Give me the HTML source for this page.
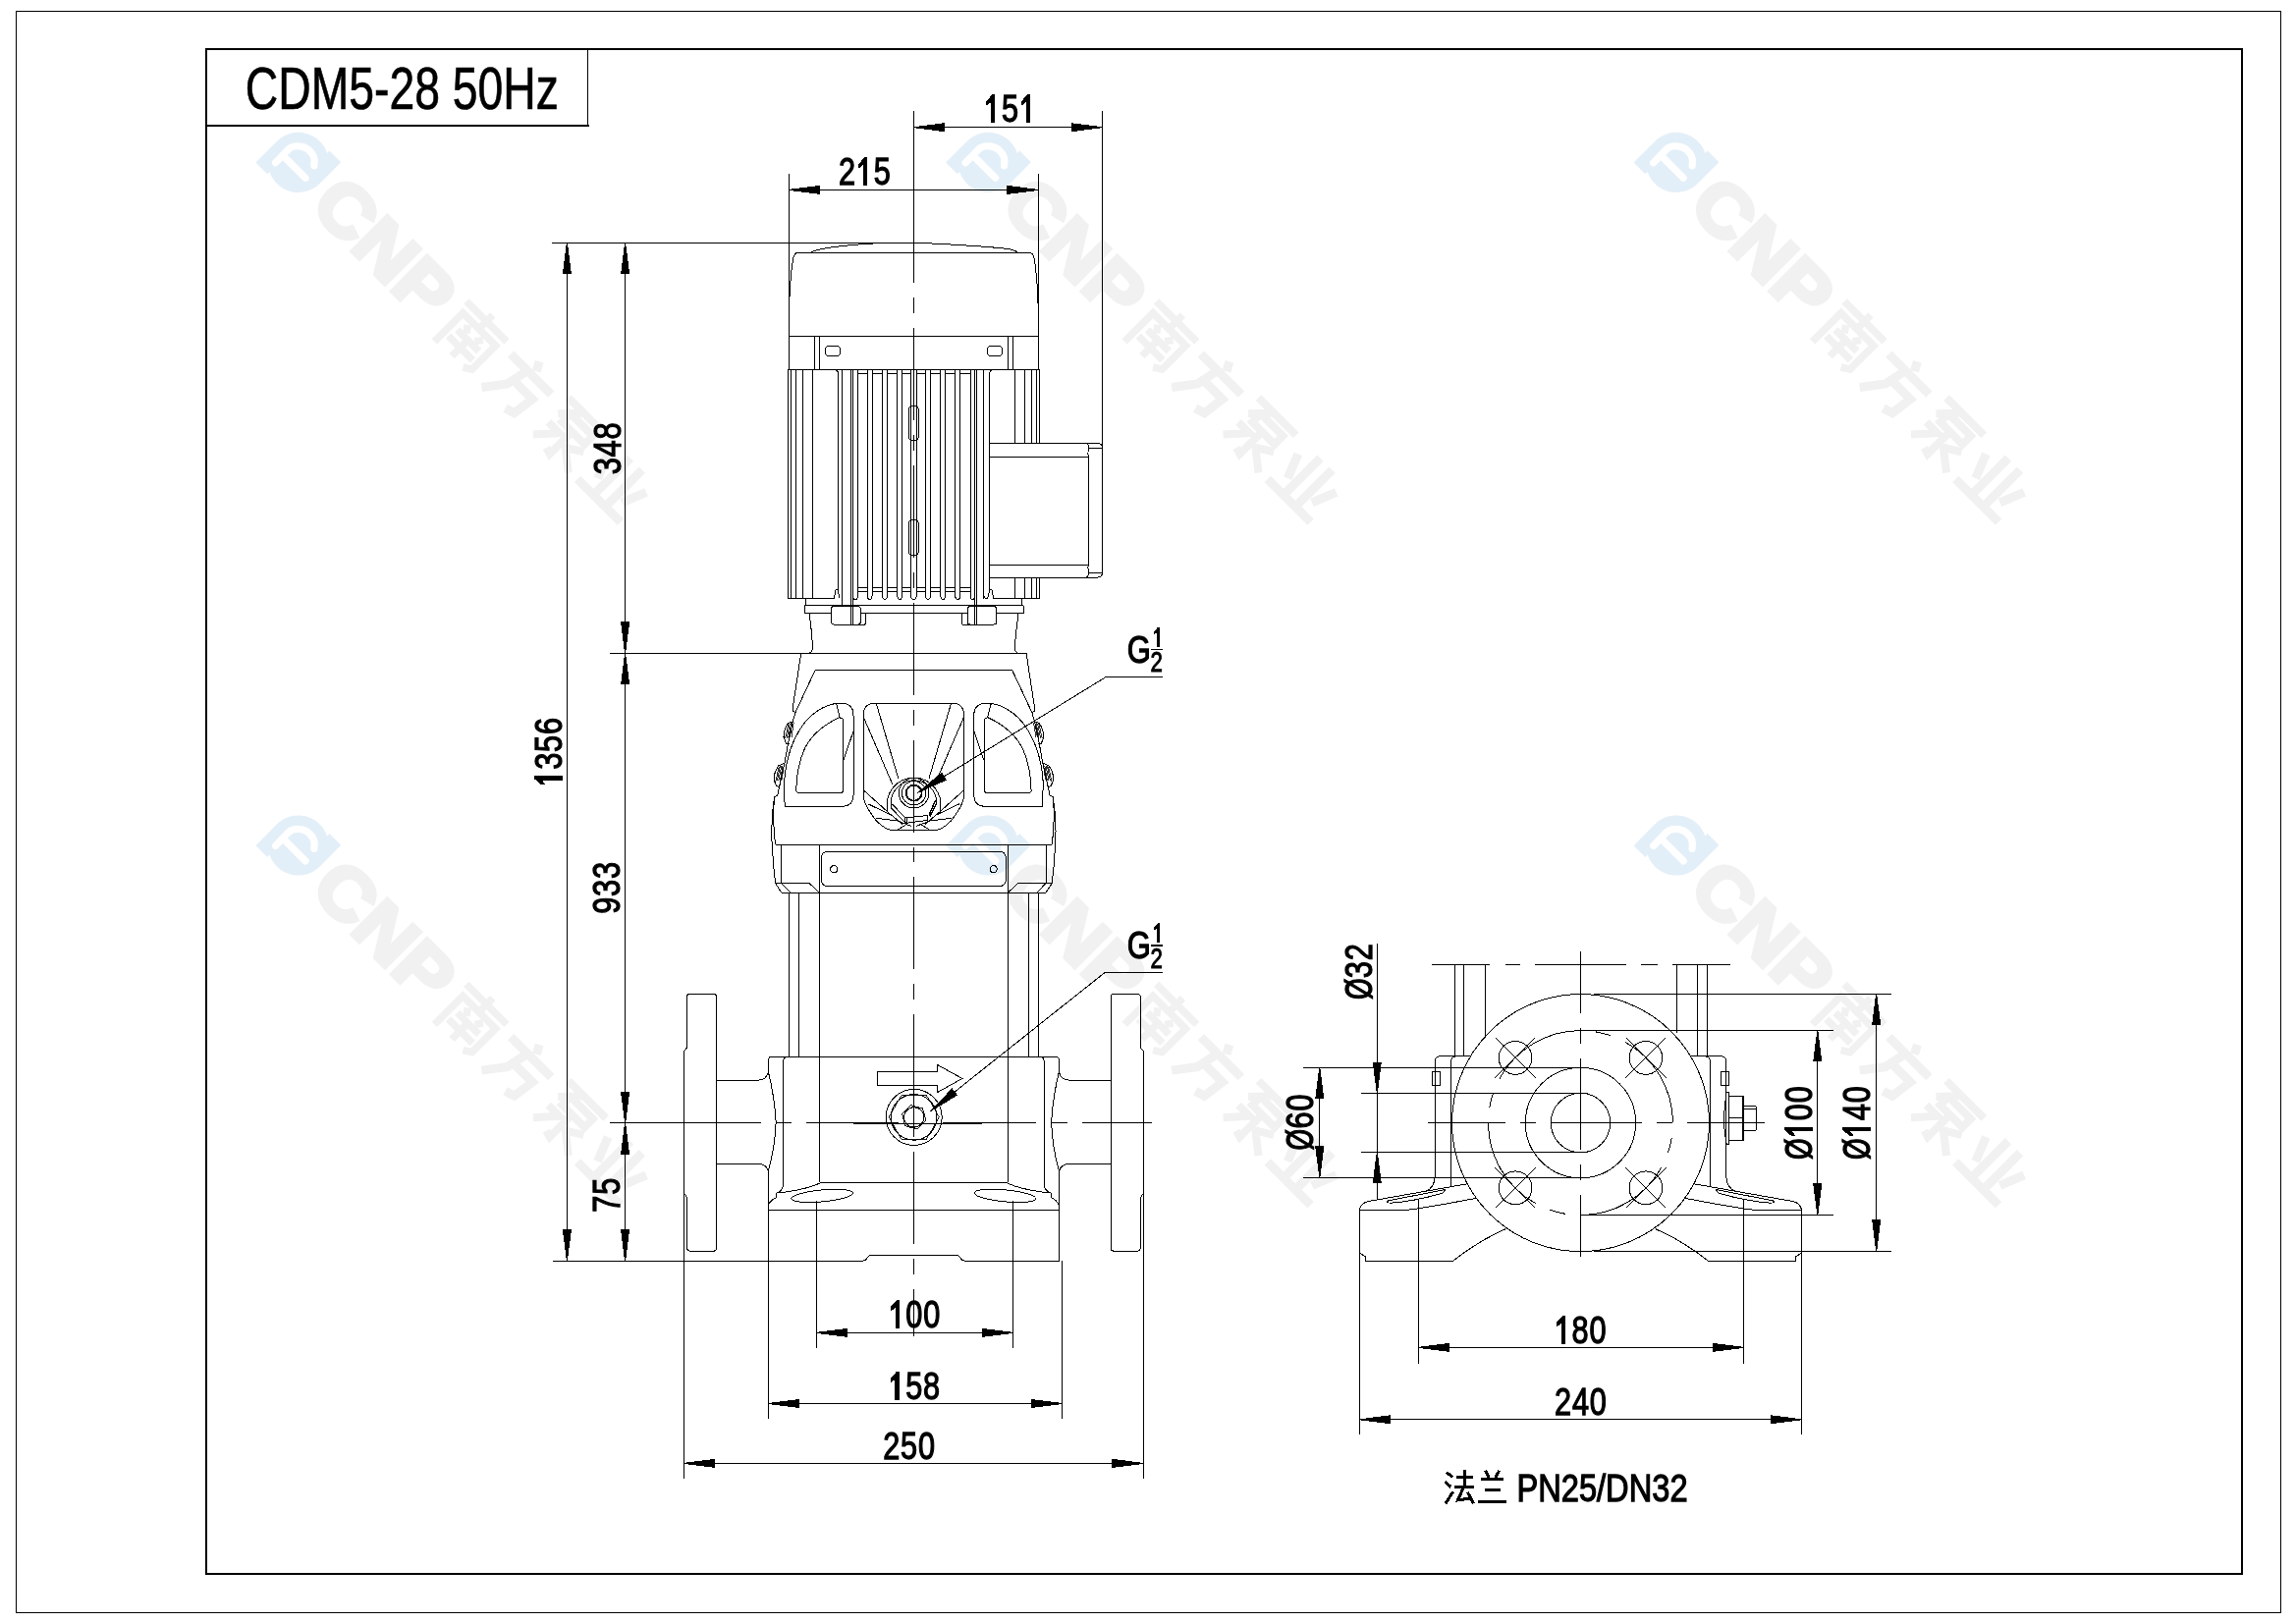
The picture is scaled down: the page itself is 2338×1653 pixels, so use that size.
<!DOCTYPE html><html><head><meta charset="utf-8"><title>CDM5-28 50Hz</title><style>html,body{margin:0;padding:0;background:#fff}svg{display:block}.tx{font-family:"Liberation Sans",sans-serif;fill:#000;stroke:#000;stroke-width:1.3}.t1{fill:#000;stroke:none}.hid{fill:none;stroke:none;font-family:"Liberation Sans",sans-serif}.ar{fill:#000;stroke:#000;stroke-width:1;stroke-linejoin:miter}</style></head><body><svg width="2338" height="1653" viewBox="0 0 2338 1653">
<defs><filter id="gs" x="0" y="0" width="2338" height="1653" filterUnits="userSpaceOnUse" color-interpolation-filters="sRGB"><feColorMatrix type="saturate" values="0"/></filter></defs>
<rect x="0" y="0" width="2338" height="1653" fill="#fff" stroke="none"/>
<g transform="translate(303.8,165.4) rotate(45)" stroke="none">
<path fill="#e3eff8" d="M14,-30.8 H30.6 V0 A30.8,30.8 0 0 1 -14,27.43 V30.8 H-30.6 V0 A30.8,30.8 0 0 1 14,-27.43 Z"/>
<g transform="rotate(-45)"><path fill="none" stroke="#fff" stroke-width="7.2" stroke-linecap="round" stroke-linejoin="round" d="M-23.3,0.4 L-9.7,-13.7 Q-5.5,-17 -0.3,-16.6 Q7,-16.4 11.2,-12.1 Q16,-7.5 16.4,-2.7 L16.1,3.4 M-13,-4.3 L7.2,15.9"/></g>
<text transform="translate(40,25.3) scale(1.085,1)" font-family="Liberation Sans, sans-serif" font-weight="bold" font-size="73.5" fill="#f1f1f1" stroke="#f1f1f1" stroke-width="4.5" stroke-linejoin="miter">CNP</text>
<text class="hid" x="218" y="25" font-size="64">南方泵业</text>
<path d="M221.0,-21.0 L279.0,-21.0" fill="none" stroke="#f1f1f1" stroke-width="7.5"/>
<path d="M250.0,-30.0 L250.0,-12.0" fill="none" stroke="#f1f1f1" stroke-width="7.5"/>
<path d="M227.0,31.0 L227.0,-10.0 L274.0,-10.0 L274.0,24.0 L266.0,29.0" fill="none" stroke="#f1f1f1" stroke-width="7.5"/>
<path d="M239.0,-5.0 L244.0,2.0" fill="none" stroke="#f1f1f1" stroke-width="7.5"/>
<path d="M261.0,-5.0 L256.0,2.0" fill="none" stroke="#f1f1f1" stroke-width="7.5"/>
<path d="M235.0,6.0 L266.0,6.0" fill="none" stroke="#f1f1f1" stroke-width="7.5"/>
<path d="M233.0,17.0 L268.0,17.0" fill="none" stroke="#f1f1f1" stroke-width="7.5"/>
<path d="M250.0,6.0 L250.0,29.0" fill="none" stroke="#f1f1f1" stroke-width="7.5"/>
<path d="M317.0,-30.0 L322.0,-21.0" fill="none" stroke="#f1f1f1" stroke-width="9"/>
<path d="M291.0,-15.0 L349.0,-15.0" fill="none" stroke="#f1f1f1" stroke-width="9"/>
<path d="M315.0,-15.0 L310.0,9.0 L294.0,30.0" fill="none" stroke="#f1f1f1" stroke-width="9"/>
<path d="M314.0,2.0 L339.0,2.0 L336.0,25.0 L326.0,28.0" fill="none" stroke="#f1f1f1" stroke-width="9"/>
<path d="M364.0,-25.0 L418.0,-25.0" fill="none" stroke="#f1f1f1" stroke-width="8"/>
<path d="M386.0,-25.0 L368.0,-6.0" fill="none" stroke="#f1f1f1" stroke-width="8"/>
<path d="M377.0,-15.0 L409.0,-15.0 L409.0,-3.0 L377.0,-3.0 L377.0,-15.0" fill="none" stroke="#f1f1f1" stroke-width="8"/>
<path d="M391.0,-1.0 L391.0,29.0 L384.0,27.0" fill="none" stroke="#f1f1f1" stroke-width="8"/>
<path d="M367.0,7.0 L383.0,7.0 L365.0,27.0" fill="none" stroke="#f1f1f1" stroke-width="8"/>
<path d="M414.0,3.0 L398.0,13.0" fill="none" stroke="#f1f1f1" stroke-width="8"/>
<path d="M395.0,11.0 L418.0,29.0" fill="none" stroke="#f1f1f1" stroke-width="8"/>
<path d="M452.0,-26.0 L452.0,26.0" fill="none" stroke="#f1f1f1" stroke-width="9"/>
<path d="M469.0,-26.0 L469.0,26.0" fill="none" stroke="#f1f1f1" stroke-width="9"/>
<path d="M433.0,-13.0 L443.0,12.0" fill="none" stroke="#f1f1f1" stroke-width="9"/>
<path d="M488.0,-13.0 L478.0,12.0" fill="none" stroke="#f1f1f1" stroke-width="9"/>
<path d="M429.0,27.0 L491.0,27.0" fill="none" stroke="#f1f1f1" stroke-width="9"/>
</g>
<g transform="translate(1006.5,165.4) rotate(45)" stroke="none">
<path fill="#e3eff8" d="M14,-30.8 H30.6 V0 A30.8,30.8 0 0 1 -14,27.43 V30.8 H-30.6 V0 A30.8,30.8 0 0 1 14,-27.43 Z"/>
<g transform="rotate(-45)"><path fill="none" stroke="#fff" stroke-width="7.2" stroke-linecap="round" stroke-linejoin="round" d="M-23.3,0.4 L-9.7,-13.7 Q-5.5,-17 -0.3,-16.6 Q7,-16.4 11.2,-12.1 Q16,-7.5 16.4,-2.7 L16.1,3.4 M-13,-4.3 L7.2,15.9"/></g>
<text transform="translate(40,25.3) scale(1.085,1)" font-family="Liberation Sans, sans-serif" font-weight="bold" font-size="73.5" fill="#f1f1f1" stroke="#f1f1f1" stroke-width="4.5" stroke-linejoin="miter">CNP</text>
<text class="hid" x="218" y="25" font-size="64">南方泵业</text>
<path d="M221.0,-21.0 L279.0,-21.0" fill="none" stroke="#f1f1f1" stroke-width="7.5"/>
<path d="M250.0,-30.0 L250.0,-12.0" fill="none" stroke="#f1f1f1" stroke-width="7.5"/>
<path d="M227.0,31.0 L227.0,-10.0 L274.0,-10.0 L274.0,24.0 L266.0,29.0" fill="none" stroke="#f1f1f1" stroke-width="7.5"/>
<path d="M239.0,-5.0 L244.0,2.0" fill="none" stroke="#f1f1f1" stroke-width="7.5"/>
<path d="M261.0,-5.0 L256.0,2.0" fill="none" stroke="#f1f1f1" stroke-width="7.5"/>
<path d="M235.0,6.0 L266.0,6.0" fill="none" stroke="#f1f1f1" stroke-width="7.5"/>
<path d="M233.0,17.0 L268.0,17.0" fill="none" stroke="#f1f1f1" stroke-width="7.5"/>
<path d="M250.0,6.0 L250.0,29.0" fill="none" stroke="#f1f1f1" stroke-width="7.5"/>
<path d="M317.0,-30.0 L322.0,-21.0" fill="none" stroke="#f1f1f1" stroke-width="9"/>
<path d="M291.0,-15.0 L349.0,-15.0" fill="none" stroke="#f1f1f1" stroke-width="9"/>
<path d="M315.0,-15.0 L310.0,9.0 L294.0,30.0" fill="none" stroke="#f1f1f1" stroke-width="9"/>
<path d="M314.0,2.0 L339.0,2.0 L336.0,25.0 L326.0,28.0" fill="none" stroke="#f1f1f1" stroke-width="9"/>
<path d="M364.0,-25.0 L418.0,-25.0" fill="none" stroke="#f1f1f1" stroke-width="8"/>
<path d="M386.0,-25.0 L368.0,-6.0" fill="none" stroke="#f1f1f1" stroke-width="8"/>
<path d="M377.0,-15.0 L409.0,-15.0 L409.0,-3.0 L377.0,-3.0 L377.0,-15.0" fill="none" stroke="#f1f1f1" stroke-width="8"/>
<path d="M391.0,-1.0 L391.0,29.0 L384.0,27.0" fill="none" stroke="#f1f1f1" stroke-width="8"/>
<path d="M367.0,7.0 L383.0,7.0 L365.0,27.0" fill="none" stroke="#f1f1f1" stroke-width="8"/>
<path d="M414.0,3.0 L398.0,13.0" fill="none" stroke="#f1f1f1" stroke-width="8"/>
<path d="M395.0,11.0 L418.0,29.0" fill="none" stroke="#f1f1f1" stroke-width="8"/>
<path d="M452.0,-26.0 L452.0,26.0" fill="none" stroke="#f1f1f1" stroke-width="9"/>
<path d="M469.0,-26.0 L469.0,26.0" fill="none" stroke="#f1f1f1" stroke-width="9"/>
<path d="M433.0,-13.0 L443.0,12.0" fill="none" stroke="#f1f1f1" stroke-width="9"/>
<path d="M488.0,-13.0 L478.0,12.0" fill="none" stroke="#f1f1f1" stroke-width="9"/>
<path d="M429.0,27.0 L491.0,27.0" fill="none" stroke="#f1f1f1" stroke-width="9"/>
</g>
<g transform="translate(1707,165.4) rotate(45)" stroke="none">
<path fill="#e3eff8" d="M14,-30.8 H30.6 V0 A30.8,30.8 0 0 1 -14,27.43 V30.8 H-30.6 V0 A30.8,30.8 0 0 1 14,-27.43 Z"/>
<g transform="rotate(-45)"><path fill="none" stroke="#fff" stroke-width="7.2" stroke-linecap="round" stroke-linejoin="round" d="M-23.3,0.4 L-9.7,-13.7 Q-5.5,-17 -0.3,-16.6 Q7,-16.4 11.2,-12.1 Q16,-7.5 16.4,-2.7 L16.1,3.4 M-13,-4.3 L7.2,15.9"/></g>
<text transform="translate(40,25.3) scale(1.085,1)" font-family="Liberation Sans, sans-serif" font-weight="bold" font-size="73.5" fill="#f1f1f1" stroke="#f1f1f1" stroke-width="4.5" stroke-linejoin="miter">CNP</text>
<text class="hid" x="218" y="25" font-size="64">南方泵业</text>
<path d="M221.0,-21.0 L279.0,-21.0" fill="none" stroke="#f1f1f1" stroke-width="7.5"/>
<path d="M250.0,-30.0 L250.0,-12.0" fill="none" stroke="#f1f1f1" stroke-width="7.5"/>
<path d="M227.0,31.0 L227.0,-10.0 L274.0,-10.0 L274.0,24.0 L266.0,29.0" fill="none" stroke="#f1f1f1" stroke-width="7.5"/>
<path d="M239.0,-5.0 L244.0,2.0" fill="none" stroke="#f1f1f1" stroke-width="7.5"/>
<path d="M261.0,-5.0 L256.0,2.0" fill="none" stroke="#f1f1f1" stroke-width="7.5"/>
<path d="M235.0,6.0 L266.0,6.0" fill="none" stroke="#f1f1f1" stroke-width="7.5"/>
<path d="M233.0,17.0 L268.0,17.0" fill="none" stroke="#f1f1f1" stroke-width="7.5"/>
<path d="M250.0,6.0 L250.0,29.0" fill="none" stroke="#f1f1f1" stroke-width="7.5"/>
<path d="M317.0,-30.0 L322.0,-21.0" fill="none" stroke="#f1f1f1" stroke-width="9"/>
<path d="M291.0,-15.0 L349.0,-15.0" fill="none" stroke="#f1f1f1" stroke-width="9"/>
<path d="M315.0,-15.0 L310.0,9.0 L294.0,30.0" fill="none" stroke="#f1f1f1" stroke-width="9"/>
<path d="M314.0,2.0 L339.0,2.0 L336.0,25.0 L326.0,28.0" fill="none" stroke="#f1f1f1" stroke-width="9"/>
<path d="M364.0,-25.0 L418.0,-25.0" fill="none" stroke="#f1f1f1" stroke-width="8"/>
<path d="M386.0,-25.0 L368.0,-6.0" fill="none" stroke="#f1f1f1" stroke-width="8"/>
<path d="M377.0,-15.0 L409.0,-15.0 L409.0,-3.0 L377.0,-3.0 L377.0,-15.0" fill="none" stroke="#f1f1f1" stroke-width="8"/>
<path d="M391.0,-1.0 L391.0,29.0 L384.0,27.0" fill="none" stroke="#f1f1f1" stroke-width="8"/>
<path d="M367.0,7.0 L383.0,7.0 L365.0,27.0" fill="none" stroke="#f1f1f1" stroke-width="8"/>
<path d="M414.0,3.0 L398.0,13.0" fill="none" stroke="#f1f1f1" stroke-width="8"/>
<path d="M395.0,11.0 L418.0,29.0" fill="none" stroke="#f1f1f1" stroke-width="8"/>
<path d="M452.0,-26.0 L452.0,26.0" fill="none" stroke="#f1f1f1" stroke-width="9"/>
<path d="M469.0,-26.0 L469.0,26.0" fill="none" stroke="#f1f1f1" stroke-width="9"/>
<path d="M433.0,-13.0 L443.0,12.0" fill="none" stroke="#f1f1f1" stroke-width="9"/>
<path d="M488.0,-13.0 L478.0,12.0" fill="none" stroke="#f1f1f1" stroke-width="9"/>
<path d="M429.0,27.0 L491.0,27.0" fill="none" stroke="#f1f1f1" stroke-width="9"/>
</g>
<g transform="translate(303.8,861) rotate(45)" stroke="none">
<path fill="#e3eff8" d="M14,-30.8 H30.6 V0 A30.8,30.8 0 0 1 -14,27.43 V30.8 H-30.6 V0 A30.8,30.8 0 0 1 14,-27.43 Z"/>
<g transform="rotate(-45)"><path fill="none" stroke="#fff" stroke-width="7.2" stroke-linecap="round" stroke-linejoin="round" d="M-23.3,0.4 L-9.7,-13.7 Q-5.5,-17 -0.3,-16.6 Q7,-16.4 11.2,-12.1 Q16,-7.5 16.4,-2.7 L16.1,3.4 M-13,-4.3 L7.2,15.9"/></g>
<text transform="translate(40,25.3) scale(1.085,1)" font-family="Liberation Sans, sans-serif" font-weight="bold" font-size="73.5" fill="#f1f1f1" stroke="#f1f1f1" stroke-width="4.5" stroke-linejoin="miter">CNP</text>
<text class="hid" x="218" y="25" font-size="64">南方泵业</text>
<path d="M221.0,-21.0 L279.0,-21.0" fill="none" stroke="#f1f1f1" stroke-width="7.5"/>
<path d="M250.0,-30.0 L250.0,-12.0" fill="none" stroke="#f1f1f1" stroke-width="7.5"/>
<path d="M227.0,31.0 L227.0,-10.0 L274.0,-10.0 L274.0,24.0 L266.0,29.0" fill="none" stroke="#f1f1f1" stroke-width="7.5"/>
<path d="M239.0,-5.0 L244.0,2.0" fill="none" stroke="#f1f1f1" stroke-width="7.5"/>
<path d="M261.0,-5.0 L256.0,2.0" fill="none" stroke="#f1f1f1" stroke-width="7.5"/>
<path d="M235.0,6.0 L266.0,6.0" fill="none" stroke="#f1f1f1" stroke-width="7.5"/>
<path d="M233.0,17.0 L268.0,17.0" fill="none" stroke="#f1f1f1" stroke-width="7.5"/>
<path d="M250.0,6.0 L250.0,29.0" fill="none" stroke="#f1f1f1" stroke-width="7.5"/>
<path d="M317.0,-30.0 L322.0,-21.0" fill="none" stroke="#f1f1f1" stroke-width="9"/>
<path d="M291.0,-15.0 L349.0,-15.0" fill="none" stroke="#f1f1f1" stroke-width="9"/>
<path d="M315.0,-15.0 L310.0,9.0 L294.0,30.0" fill="none" stroke="#f1f1f1" stroke-width="9"/>
<path d="M314.0,2.0 L339.0,2.0 L336.0,25.0 L326.0,28.0" fill="none" stroke="#f1f1f1" stroke-width="9"/>
<path d="M364.0,-25.0 L418.0,-25.0" fill="none" stroke="#f1f1f1" stroke-width="8"/>
<path d="M386.0,-25.0 L368.0,-6.0" fill="none" stroke="#f1f1f1" stroke-width="8"/>
<path d="M377.0,-15.0 L409.0,-15.0 L409.0,-3.0 L377.0,-3.0 L377.0,-15.0" fill="none" stroke="#f1f1f1" stroke-width="8"/>
<path d="M391.0,-1.0 L391.0,29.0 L384.0,27.0" fill="none" stroke="#f1f1f1" stroke-width="8"/>
<path d="M367.0,7.0 L383.0,7.0 L365.0,27.0" fill="none" stroke="#f1f1f1" stroke-width="8"/>
<path d="M414.0,3.0 L398.0,13.0" fill="none" stroke="#f1f1f1" stroke-width="8"/>
<path d="M395.0,11.0 L418.0,29.0" fill="none" stroke="#f1f1f1" stroke-width="8"/>
<path d="M452.0,-26.0 L452.0,26.0" fill="none" stroke="#f1f1f1" stroke-width="9"/>
<path d="M469.0,-26.0 L469.0,26.0" fill="none" stroke="#f1f1f1" stroke-width="9"/>
<path d="M433.0,-13.0 L443.0,12.0" fill="none" stroke="#f1f1f1" stroke-width="9"/>
<path d="M488.0,-13.0 L478.0,12.0" fill="none" stroke="#f1f1f1" stroke-width="9"/>
<path d="M429.0,27.0 L491.0,27.0" fill="none" stroke="#f1f1f1" stroke-width="9"/>
</g>
<g transform="translate(1006.5,861) rotate(45)" stroke="none">
<path fill="#e3eff8" d="M14,-30.8 H30.6 V0 A30.8,30.8 0 0 1 -14,27.43 V30.8 H-30.6 V0 A30.8,30.8 0 0 1 14,-27.43 Z"/>
<g transform="rotate(-45)"><path fill="none" stroke="#fff" stroke-width="7.2" stroke-linecap="round" stroke-linejoin="round" d="M-23.3,0.4 L-9.7,-13.7 Q-5.5,-17 -0.3,-16.6 Q7,-16.4 11.2,-12.1 Q16,-7.5 16.4,-2.7 L16.1,3.4 M-13,-4.3 L7.2,15.9"/></g>
<text transform="translate(40,25.3) scale(1.085,1)" font-family="Liberation Sans, sans-serif" font-weight="bold" font-size="73.5" fill="#f1f1f1" stroke="#f1f1f1" stroke-width="4.5" stroke-linejoin="miter">CNP</text>
<text class="hid" x="218" y="25" font-size="64">南方泵业</text>
<path d="M221.0,-21.0 L279.0,-21.0" fill="none" stroke="#f1f1f1" stroke-width="7.5"/>
<path d="M250.0,-30.0 L250.0,-12.0" fill="none" stroke="#f1f1f1" stroke-width="7.5"/>
<path d="M227.0,31.0 L227.0,-10.0 L274.0,-10.0 L274.0,24.0 L266.0,29.0" fill="none" stroke="#f1f1f1" stroke-width="7.5"/>
<path d="M239.0,-5.0 L244.0,2.0" fill="none" stroke="#f1f1f1" stroke-width="7.5"/>
<path d="M261.0,-5.0 L256.0,2.0" fill="none" stroke="#f1f1f1" stroke-width="7.5"/>
<path d="M235.0,6.0 L266.0,6.0" fill="none" stroke="#f1f1f1" stroke-width="7.5"/>
<path d="M233.0,17.0 L268.0,17.0" fill="none" stroke="#f1f1f1" stroke-width="7.5"/>
<path d="M250.0,6.0 L250.0,29.0" fill="none" stroke="#f1f1f1" stroke-width="7.5"/>
<path d="M317.0,-30.0 L322.0,-21.0" fill="none" stroke="#f1f1f1" stroke-width="9"/>
<path d="M291.0,-15.0 L349.0,-15.0" fill="none" stroke="#f1f1f1" stroke-width="9"/>
<path d="M315.0,-15.0 L310.0,9.0 L294.0,30.0" fill="none" stroke="#f1f1f1" stroke-width="9"/>
<path d="M314.0,2.0 L339.0,2.0 L336.0,25.0 L326.0,28.0" fill="none" stroke="#f1f1f1" stroke-width="9"/>
<path d="M364.0,-25.0 L418.0,-25.0" fill="none" stroke="#f1f1f1" stroke-width="8"/>
<path d="M386.0,-25.0 L368.0,-6.0" fill="none" stroke="#f1f1f1" stroke-width="8"/>
<path d="M377.0,-15.0 L409.0,-15.0 L409.0,-3.0 L377.0,-3.0 L377.0,-15.0" fill="none" stroke="#f1f1f1" stroke-width="8"/>
<path d="M391.0,-1.0 L391.0,29.0 L384.0,27.0" fill="none" stroke="#f1f1f1" stroke-width="8"/>
<path d="M367.0,7.0 L383.0,7.0 L365.0,27.0" fill="none" stroke="#f1f1f1" stroke-width="8"/>
<path d="M414.0,3.0 L398.0,13.0" fill="none" stroke="#f1f1f1" stroke-width="8"/>
<path d="M395.0,11.0 L418.0,29.0" fill="none" stroke="#f1f1f1" stroke-width="8"/>
<path d="M452.0,-26.0 L452.0,26.0" fill="none" stroke="#f1f1f1" stroke-width="9"/>
<path d="M469.0,-26.0 L469.0,26.0" fill="none" stroke="#f1f1f1" stroke-width="9"/>
<path d="M433.0,-13.0 L443.0,12.0" fill="none" stroke="#f1f1f1" stroke-width="9"/>
<path d="M488.0,-13.0 L478.0,12.0" fill="none" stroke="#f1f1f1" stroke-width="9"/>
<path d="M429.0,27.0 L491.0,27.0" fill="none" stroke="#f1f1f1" stroke-width="9"/>
</g>
<g transform="translate(1707,861) rotate(45)" stroke="none">
<path fill="#e3eff8" d="M14,-30.8 H30.6 V0 A30.8,30.8 0 0 1 -14,27.43 V30.8 H-30.6 V0 A30.8,30.8 0 0 1 14,-27.43 Z"/>
<g transform="rotate(-45)"><path fill="none" stroke="#fff" stroke-width="7.2" stroke-linecap="round" stroke-linejoin="round" d="M-23.3,0.4 L-9.7,-13.7 Q-5.5,-17 -0.3,-16.6 Q7,-16.4 11.2,-12.1 Q16,-7.5 16.4,-2.7 L16.1,3.4 M-13,-4.3 L7.2,15.9"/></g>
<text transform="translate(40,25.3) scale(1.085,1)" font-family="Liberation Sans, sans-serif" font-weight="bold" font-size="73.5" fill="#f1f1f1" stroke="#f1f1f1" stroke-width="4.5" stroke-linejoin="miter">CNP</text>
<text class="hid" x="218" y="25" font-size="64">南方泵业</text>
<path d="M221.0,-21.0 L279.0,-21.0" fill="none" stroke="#f1f1f1" stroke-width="7.5"/>
<path d="M250.0,-30.0 L250.0,-12.0" fill="none" stroke="#f1f1f1" stroke-width="7.5"/>
<path d="M227.0,31.0 L227.0,-10.0 L274.0,-10.0 L274.0,24.0 L266.0,29.0" fill="none" stroke="#f1f1f1" stroke-width="7.5"/>
<path d="M239.0,-5.0 L244.0,2.0" fill="none" stroke="#f1f1f1" stroke-width="7.5"/>
<path d="M261.0,-5.0 L256.0,2.0" fill="none" stroke="#f1f1f1" stroke-width="7.5"/>
<path d="M235.0,6.0 L266.0,6.0" fill="none" stroke="#f1f1f1" stroke-width="7.5"/>
<path d="M233.0,17.0 L268.0,17.0" fill="none" stroke="#f1f1f1" stroke-width="7.5"/>
<path d="M250.0,6.0 L250.0,29.0" fill="none" stroke="#f1f1f1" stroke-width="7.5"/>
<path d="M317.0,-30.0 L322.0,-21.0" fill="none" stroke="#f1f1f1" stroke-width="9"/>
<path d="M291.0,-15.0 L349.0,-15.0" fill="none" stroke="#f1f1f1" stroke-width="9"/>
<path d="M315.0,-15.0 L310.0,9.0 L294.0,30.0" fill="none" stroke="#f1f1f1" stroke-width="9"/>
<path d="M314.0,2.0 L339.0,2.0 L336.0,25.0 L326.0,28.0" fill="none" stroke="#f1f1f1" stroke-width="9"/>
<path d="M364.0,-25.0 L418.0,-25.0" fill="none" stroke="#f1f1f1" stroke-width="8"/>
<path d="M386.0,-25.0 L368.0,-6.0" fill="none" stroke="#f1f1f1" stroke-width="8"/>
<path d="M377.0,-15.0 L409.0,-15.0 L409.0,-3.0 L377.0,-3.0 L377.0,-15.0" fill="none" stroke="#f1f1f1" stroke-width="8"/>
<path d="M391.0,-1.0 L391.0,29.0 L384.0,27.0" fill="none" stroke="#f1f1f1" stroke-width="8"/>
<path d="M367.0,7.0 L383.0,7.0 L365.0,27.0" fill="none" stroke="#f1f1f1" stroke-width="8"/>
<path d="M414.0,3.0 L398.0,13.0" fill="none" stroke="#f1f1f1" stroke-width="8"/>
<path d="M395.0,11.0 L418.0,29.0" fill="none" stroke="#f1f1f1" stroke-width="8"/>
<path d="M452.0,-26.0 L452.0,26.0" fill="none" stroke="#f1f1f1" stroke-width="9"/>
<path d="M469.0,-26.0 L469.0,26.0" fill="none" stroke="#f1f1f1" stroke-width="9"/>
<path d="M433.0,-13.0 L443.0,12.0" fill="none" stroke="#f1f1f1" stroke-width="9"/>
<path d="M488.0,-13.0 L478.0,12.0" fill="none" stroke="#f1f1f1" stroke-width="9"/>
<path d="M429.0,27.0 L491.0,27.0" fill="none" stroke="#f1f1f1" stroke-width="9"/>
</g>
<g fill="none" stroke="#000" stroke-width="1.0" filter="url(#gs)" shape-rendering="crispEdges">
<rect x="16.2" y="11.7" width="2306.7" height="1630.6" stroke-width="1.1"/>
<rect x="210.2" y="50.2" width="2072.8" height="1552.8" stroke-width="2"/>
<path d="M598.5,50.2 V128 M210.2,128 H599.5" stroke-width="1.6"/>
<text class="tx" style="stroke-width:0.7" transform="translate(249.8,110.6) scale(0.752,1)" font-size="61.6">CDM5-28 50Hz</text>
<path d="M803.4,342.4 V322 C803.7,300 805,280 807.5,264 Q808.6,257.4 812.8,257.4 H1048 Q1052.2,257.4 1053.3,264 C1055.8,280 1057.1,300 1057.4,325.6 V342.4" />
<path d="M825.3,257.4 C833,252.8 855,249.8 896,247.6 H941.2 C985,249.8 1020,252.3 1030,254.2 Q1034,255.3 1036.1,257.2" />
<line x1="803.4" y1="342.4" x2="1057.6" y2="342.4" />
<line x1="803.6" y1="342.4" x2="803.6" y2="376.4" />
<line x1="1057.6" y1="342.4" x2="1057.6" y2="376.4" />
<line x1="829.3" y1="342.4" x2="829.3" y2="376.4" />
<line x1="834.5" y1="342.4" x2="834.5" y2="376.4" />
<line x1="1026.4" y1="342.4" x2="1026.4" y2="376.4" />
<line x1="1031.5" y1="342.4" x2="1031.5" y2="376.4" />
<rect x="840.4" y="352.4" width="15.4" height="10.4" rx="4.2" ry="4.2" />
<rect x="1005.1" y="352.4" width="15.5" height="10.4" rx="4.2" ry="4.2" />
<line x1="802.1" y1="376.4" x2="1058.8" y2="376.4" />
<line x1="802.1" y1="376.4" x2="802.1" y2="609.2" />
<line x1="805.6" y1="376.4" x2="805.6" y2="609.2" />
<line x1="810.8" y1="376.4" x2="810.8" y2="609.2" />
<line x1="817.6" y1="376.4" x2="817.6" y2="609.2" />
<line x1="827.6" y1="376.4" x2="827.6" y2="609.2" />
<line x1="802.1" y1="609.2" x2="847.3" y2="609.2" />
<line x1="1013.9" y1="609.2" x2="1058.8" y2="609.2" />
<line x1="1033.5" y1="376.4" x2="1033.5" y2="451.4" />
<line x1="1033.5" y1="588.0" x2="1033.5" y2="609.2" />
<line x1="1043.6" y1="376.4" x2="1043.6" y2="451.4" />
<line x1="1043.6" y1="588.0" x2="1043.6" y2="609.2" />
<line x1="1050.8" y1="376.4" x2="1050.8" y2="451.4" />
<line x1="1050.8" y1="588.0" x2="1050.8" y2="609.2" />
<line x1="1055.6" y1="376.4" x2="1055.6" y2="451.4" />
<line x1="1055.6" y1="588.0" x2="1055.6" y2="609.2" />
<line x1="1058.8" y1="376.4" x2="1058.8" y2="451.4" />
<line x1="1058.8" y1="588.0" x2="1058.8" y2="609.2" />
<path d="M849.8,376.4 Q853.7,377 853.7,381.5 V602.5 M847.3,609.4 H849.7 L850.3,603 Q852,597.6 853.8,603 L854.4,609.4" />
<path d="M1011.4,376.4 Q1007.5,377 1007.5,381.5 V451.4 M1007.5,588 V602.5 M1013.9,609.4 H1011.3 L1010.7,603 Q1009,597.6 1007.2,603 L1006.4,607 Q1003.9,613 1001.5,606.5" />
<line x1="857.5" y1="376.4" x2="857.5" y2="616.6" />
<line x1="866.5" y1="376.4" x2="866.5" y2="636.1" />
<line x1="868.1" y1="376.4" x2="868.1" y2="636.1" />
<line x1="1001.9" y1="376.4" x2="1001.9" y2="609.5" />
<line x1="994.5" y1="376.4" x2="994.5" y2="636.1" />
<line x1="992.5" y1="376.4" x2="992.5" y2="636.1" />
<line x1="873.7" y1="376.4" x2="873.7" y2="606.5" />
<path d="M868.1,606 Q868.1,610.5 870.9000000000001,610.5 Q873.7,610.5 873.7,606" />
<line x1="883.3" y1="376.4" x2="883.3" y2="606.5" />
<line x1="888.1" y1="376.4" x2="888.1" y2="606.5" />
<path d="M883.3,606 Q883.3,610.5 885.7,610.5 Q888.1,610.5 888.1,606" />
<line x1="898.6" y1="376.4" x2="898.6" y2="606.5" />
<line x1="903.4" y1="376.4" x2="903.4" y2="606.5" />
<path d="M898.6,606 Q898.6,610.5 901.0,610.5 Q903.4,610.5 903.4,606" />
<line x1="913.8" y1="376.4" x2="913.8" y2="606.5" />
<line x1="918.6" y1="376.4" x2="918.6" y2="606.5" />
<path d="M913.8,606 Q913.8,610.5 916.2,610.5 Q918.6,610.5 918.6,606" />
<line x1="927.4" y1="376.4" x2="927.4" y2="606.5" />
<line x1="933.3" y1="376.4" x2="933.3" y2="606.5" />
<path d="M927.4,606 Q927.4,610.5 930.3499999999999,610.5 Q933.3,610.5 933.3,606" />
<line x1="942.6" y1="376.4" x2="942.6" y2="606.5" />
<line x1="947.4" y1="376.4" x2="947.4" y2="606.5" />
<path d="M942.6,606 Q942.6,610.5 945.0,610.5 Q947.4,610.5 947.4,606" />
<line x1="957.8" y1="376.4" x2="957.8" y2="606.5" />
<line x1="962.6" y1="376.4" x2="962.6" y2="606.5" />
<path d="M957.8,606 Q957.8,610.5 960.2,610.5 Q962.6,610.5 962.6,606" />
<line x1="972.7" y1="376.4" x2="972.7" y2="606.5" />
<line x1="977.9" y1="376.4" x2="977.9" y2="606.5" />
<path d="M972.7,606 Q972.7,610.5 975.3,610.5 Q977.9,610.5 977.9,606" />
<line x1="988.0" y1="376.4" x2="988.0" y2="606.5" />
<path d="M988.0,606 Q988.0,610.5 990.25,610.5 Q992.5,610.5 992.5,606" />
<line x1="873.7" y1="380.6" x2="883.3" y2="380.6" />
<line x1="873.7" y1="598.5" x2="883.3" y2="598.5" />
<line x1="873.7" y1="602.8" x2="883.3" y2="602.8" />
<line x1="888.1" y1="380.6" x2="898.6" y2="380.6" />
<line x1="888.1" y1="598.5" x2="898.6" y2="598.5" />
<line x1="888.1" y1="602.8" x2="898.6" y2="602.8" />
<line x1="903.4" y1="380.6" x2="913.8" y2="380.6" />
<line x1="903.4" y1="598.5" x2="913.8" y2="598.5" />
<line x1="903.4" y1="602.8" x2="913.8" y2="602.8" />
<line x1="918.6" y1="380.6" x2="927.4" y2="380.6" />
<line x1="918.6" y1="598.5" x2="927.4" y2="598.5" />
<line x1="918.6" y1="602.8" x2="927.4" y2="602.8" />
<line x1="933.3" y1="380.6" x2="942.6" y2="380.6" />
<line x1="933.3" y1="598.5" x2="942.6" y2="598.5" />
<line x1="933.3" y1="602.8" x2="942.6" y2="602.8" />
<line x1="947.4" y1="380.6" x2="957.8" y2="380.6" />
<line x1="947.4" y1="598.5" x2="957.8" y2="598.5" />
<line x1="947.4" y1="602.8" x2="957.8" y2="602.8" />
<line x1="962.6" y1="380.6" x2="972.7" y2="380.6" />
<line x1="962.6" y1="598.5" x2="972.7" y2="598.5" />
<line x1="962.6" y1="602.8" x2="972.7" y2="602.8" />
<line x1="977.9" y1="380.6" x2="988.0" y2="380.6" />
<line x1="977.9" y1="598.5" x2="988.0" y2="598.5" />
<line x1="977.9" y1="602.8" x2="988.0" y2="602.8" />
<rect x="925.0" y="412.9" width="10.6" height="36.1" rx="5.3" ry="5.3" />
<rect x="925.0" y="529.0" width="10.6" height="37.0" rx="5.3" ry="5.3" />
<path d="M1007.5,451.4 H1118 Q1122.5,451.8 1122.5,456.5 V583 Q1122.5,587.6 1118,588 H1007.5" />
<line x1="1007.5" y1="451.4" x2="1007.5" y2="588.0" />
<path d="M1007.5,465.5 H1108.4 V575.2 H1007.5" />
<path d="M1106.8,451.6 q3.2,3.5 1.4,7.5 q-0.8,2.5 0.2,6.4 M1108.4,456 H1122.5" />
<path d="M1106.8,587.8 q3.2,-3.5 1.4,-7.5 q-0.8,-2.5 0.2,-5.1 M1108.4,583.6 H1121.5" />
<path d="M820.4,609.2 V616.6 M1040.8,609.2 V616.6" />
<line x1="819.3" y1="616.6" x2="1042.0" y2="616.6" />
<path d="M819.3,616.6 V624.4 H846.5 M881.3,624.4 H979.5 M1014.7,624.4 H1042 V616.6" />
<rect x="846.5" y="617.7" width="29.8" height="18.3" rx="2.5" ry="2.5" />
<path d="M876.3,624.4 H881.3 V634.5 Q881.3,636.6 879,636.6 H858" />
<rect x="985.0" y="617.7" width="29.7" height="18.3" rx="2.5" ry="2.5" />
<path d="M985,624.4 H979.5 V634.5 Q979.5,636.6 981.8,636.6 H1003" />
<path d="M824.1,624.4 C825,631 826.6,645 827.6,658.6 Q827.8,664.5 823.5,665.4" />
<path d="M1037.1,624.4 C1036.2,631 1034.4,645 1033.2,658.6 Q1033,664.5 1037.3,665.4" />
<line x1="815.7" y1="665.4" x2="1045.2" y2="665.4" />
<line x1="830.2" y1="682.4" x2="1030.6" y2="682.4" />
<path d="M815.7,665.4 L807.4,719.9 V724 L809.9,725.7" />
<path d="M830.2,682.4 L809.9,725.7 C804,745 801.5,764 799.1,776.4 L791.6,810.5 L788.6,811.3 C785.6,829 785.3,850 786.6,866.2 C787.3,880 788.3,890 789.6,899.5 L795.8,909.2" />
<path d="M788.6,811.3 C787.3,824 787.6,845 789.6,860.4" />
<path d="M808.3,734.4 L802.6,736.5 Q797.9,743 798,750.5 L800.5,757.5 L803.8,757.9" />
<line x1="799.6" y1="752.0" x2="803.0" y2="737.0" stroke-width="0.8"/>
<line x1="801.2" y1="751.7" x2="804.3" y2="736.7" stroke-width="0.8"/>
<line x1="802.8" y1="751.4" x2="805.6" y2="736.4" stroke-width="0.8"/>
<line x1="804.4" y1="751.1" x2="806.9" y2="736.1" stroke-width="0.8"/>
<line x1="806.0" y1="750.8" x2="808.2" y2="735.8" stroke-width="0.8"/>
<path d="M798.3,777.4 L792.8,779.8 Q788,786.5 788.1,794 L790.6,800.8 L793.8,801.2" />
<line x1="789.7" y1="795.5" x2="793.1" y2="780.5" stroke-width="0.8"/>
<line x1="791.3" y1="795.2" x2="794.4" y2="780.2" stroke-width="0.8"/>
<line x1="792.9" y1="794.9" x2="795.7" y2="779.9" stroke-width="0.8"/>
<line x1="794.5" y1="794.6" x2="797.0" y2="779.6" stroke-width="0.8"/>
<line x1="796.1" y1="794.3" x2="798.3" y2="779.3" stroke-width="0.8"/>
<path d="M799.1,821.3 L798.6,796.4 C800,775 807,754 816.6,739.8 C826,726 840,718 851.5,716.4 L857,716.4 Q869,716.4 869,728.5 V809.5 Q869,821.3 857,821.3 Z" />
<path d="M812.9,807.2 Q810.6,807.2 810.7,805 C811,790 813.5,775 819.9,761.4 C827,748 840,737.5 854.8,730.7 L858.6,732.3 V805 Q858.6,807.2 856.4,807.2 Z" />
<line x1="851.5" y1="716.4" x2="855.2" y2="730.7" />
<line x1="869.0" y1="744.8" x2="859.0" y2="773.9" />
<line x1="892.2" y1="716.2" x2="914.9" y2="793.2" />
<line x1="879.8" y1="731.5" x2="908.9" y2="798.9" />
<path d="M879.4,804.9 L906,828.8 L918.8,839.3" />
<line x1="883.9" y1="818.8" x2="906.6" y2="829.6" />
<path d="M891.6,833.2 L913.8,836 L928.2,841.5" />
<line x1="913.8" y1="845.4" x2="922.1" y2="840.2" />
<line x1="795.3" y1="860.4" x2="795.3" y2="899.5" />
<line x1="834.5" y1="860.4" x2="834.5" y2="1204.3" />
<path d="M789.6,899.5 H824.1 L834.5,909.2 M795.8,899.5 L804.9,909.2" />
<line x1="803.5" y1="909.2" x2="803.5" y2="1076.1" />
<line x1="813.5" y1="909.2" x2="813.5" y2="1076.1" />
<circle cx="849.1" cy="885.2" r="3.5" />
<g transform="translate(1860.8,0) scale(-1,1)">
<path d="M815.7,665.4 L807.4,719.9 V724 L809.9,725.7" />
<path d="M830.2,682.4 L809.9,725.7 C804,745 801.5,764 799.1,776.4 L791.6,810.5 L788.6,811.3 C785.6,829 785.3,850 786.6,866.2 C787.3,880 788.3,890 789.6,899.5 L795.8,909.2" />
<path d="M788.6,811.3 C787.3,824 787.6,845 789.6,860.4" />
<path d="M808.3,734.4 L802.6,736.5 Q797.9,743 798,750.5 L800.5,757.5 L803.8,757.9" />
<line x1="799.6" y1="752.0" x2="803.0" y2="737.0" stroke-width="0.8"/>
<line x1="801.2" y1="751.7" x2="804.3" y2="736.7" stroke-width="0.8"/>
<line x1="802.8" y1="751.4" x2="805.6" y2="736.4" stroke-width="0.8"/>
<line x1="804.4" y1="751.1" x2="806.9" y2="736.1" stroke-width="0.8"/>
<line x1="806.0" y1="750.8" x2="808.2" y2="735.8" stroke-width="0.8"/>
<path d="M798.3,777.4 L792.8,779.8 Q788,786.5 788.1,794 L790.6,800.8 L793.8,801.2" />
<line x1="789.7" y1="795.5" x2="793.1" y2="780.5" stroke-width="0.8"/>
<line x1="791.3" y1="795.2" x2="794.4" y2="780.2" stroke-width="0.8"/>
<line x1="792.9" y1="794.9" x2="795.7" y2="779.9" stroke-width="0.8"/>
<line x1="794.5" y1="794.6" x2="797.0" y2="779.6" stroke-width="0.8"/>
<line x1="796.1" y1="794.3" x2="798.3" y2="779.3" stroke-width="0.8"/>
<path d="M799.1,821.3 L798.6,796.4 C800,775 807,754 816.6,739.8 C826,726 840,718 851.5,716.4 L857,716.4 Q869,716.4 869,728.5 V809.5 Q869,821.3 857,821.3 Z" />
<path d="M812.9,807.2 Q810.6,807.2 810.7,805 C811,790 813.5,775 819.9,761.4 C827,748 840,737.5 854.8,730.7 L858.6,732.3 V805 Q858.6,807.2 856.4,807.2 Z" />
<line x1="851.5" y1="716.4" x2="855.2" y2="730.7" />
<line x1="869.0" y1="744.8" x2="859.0" y2="773.9" />
<line x1="892.2" y1="716.2" x2="914.9" y2="793.2" />
<line x1="879.8" y1="731.5" x2="908.9" y2="798.9" />
<path d="M879.4,804.9 L906,828.8 L918.8,839.3" />
<line x1="883.9" y1="818.8" x2="906.6" y2="829.6" />
<path d="M891.6,833.2 L913.8,836 L928.2,841.5" />
<line x1="913.8" y1="845.4" x2="922.1" y2="840.2" />
<line x1="795.3" y1="860.4" x2="795.3" y2="899.5" />
<line x1="834.5" y1="860.4" x2="834.5" y2="1204.3" />
<path d="M789.6,899.5 H824.1 L834.5,909.2 M795.8,899.5 L804.9,909.2" />
<line x1="803.5" y1="909.2" x2="803.5" y2="1076.1" />
<line x1="813.5" y1="909.2" x2="813.5" y2="1076.1" />
<circle cx="849.1" cy="885.2" r="3.5" />
</g>
<path d="M879.3,728.5 Q879.3,716.2 891.5,716.2 H969.3 Q981.5,716.2 981.5,728.5 V810.5 C981.5,820 973,830 968.4,836 C962,842.5 957,845.4 952.6,845.4 H908.3 C904,845.4 899,842.5 892.4,836 C888,830 879.3,820 879.3,810.5 Z" />
<circle cx="930.6" cy="807.7" r="8.0" stroke-width="1.8"/>
<circle cx="930.6" cy="807.7" r="12.2" />
<circle cx="930.6" cy="807.7" r="15.3" />
<path d="M904.0,825.6 A27.3,27.3 0 1 1 957.2,825.6" />
<path d="M907.3,818.1 A23.3,23.3 0 1 1 953.9,818.1" />
<path d="M907.3,817.5 V822.7 L922.1,838.4 M908.4,818.8 L921.6,832.7" />
<path d="M953.9,817.5 L947.1,831.6 M952.6,815 L946,830.5" stroke-width="1.4"/>
<path d="M921.3,833 L944.9,830.5 V835.4 L923.2,838.2 L921.3,837.7 Z M923.2,833 V838" />
<line x1="789.6" y1="860.4" x2="1071.2" y2="860.4" />
<line x1="795.8" y1="909.2" x2="1065.0" y2="909.2" />
<rect x="836.3" y="867.2" width="188.1" height="35.4" rx="6.4" ry="6.4" />
<path d="M930.4,1076.2 H786 Q782.4,1076.4 782.4,1080 V1091.8 C786,1106 789,1124 790.2,1142.8 C789.5,1160 786.5,1178 782.6,1191.7 V1284.2" />
<path d="M729.6,1100.2 H772 Q780.5,1100 782.3,1092" />
<path d="M729.6,1185.4 H772 Q780.5,1185.6 782.3,1193" />
<path d="M729.6,1271.5 V1015.4 Q729.6,1012.4 726.6,1012.4 H702.6 Q699.6,1012.4 699.4,1015.4 V1066.5 Q699.2,1069 696.3,1070.4 V1215.3 Q699,1217 699.2,1220 V1270 Q699.5,1274.2 703,1274.2 H726.6 Q729.6,1274.2 729.6,1271.5" />
<path d="M801.6,1076.3 Q797.6,1076.6 797.6,1081 V1206.4 Q797.2,1213.2 790.2,1215.3 V1219.8 Q784.5,1222.5 782.4,1227.2" />
<path d="M834.6,1205 C826,1209.5 812,1212.6 792.4,1215" />
<ellipse cx="837.3" cy="1217.9" rx="31.6" ry="6" transform="rotate(-5.4 837.3 1217.9)"/>
<g transform="translate(1860.8,0) scale(-1,1)">
<path d="M930.4,1076.2 H786 Q782.4,1076.4 782.4,1080 V1091.8 C786,1106 789,1124 790.2,1142.8 C789.5,1160 786.5,1178 782.6,1191.7 V1284.2" />
<path d="M729.6,1100.2 H772 Q780.5,1100 782.3,1092" />
<path d="M729.6,1185.4 H772 Q780.5,1185.6 782.3,1193" />
<path d="M729.6,1271.5 V1015.4 Q729.6,1012.4 726.6,1012.4 H702.6 Q699.6,1012.4 699.4,1015.4 V1066.5 Q699.2,1069 696.3,1070.4 V1215.3 Q699,1217 699.2,1220 V1270 Q699.5,1274.2 703,1274.2 H726.6 Q729.6,1274.2 729.6,1271.5" />
<path d="M801.6,1076.3 Q797.6,1076.6 797.6,1081 V1206.4 Q797.2,1213.2 790.2,1215.3 V1219.8 Q784.5,1222.5 782.4,1227.2" />
<path d="M834.6,1205 C826,1209.5 812,1212.6 792.4,1215" />
<ellipse cx="837.3" cy="1217.9" rx="31.6" ry="6" transform="rotate(-5.4 837.3 1217.9)"/>
</g>
<line x1="834.6" y1="1204.3" x2="1026.2" y2="1204.3" />
<line x1="782.4" y1="1232.2" x2="1078.4" y2="1232.2" />
<path d="M562.7,1284.2 H878.5 Q881.5,1284 883,1281 Q884.5,1278.4 888,1278.4 H973 Q976.5,1278.4 978,1281 Q979.5,1284 982.5,1284.2 H1078.6" />
<path d="M893.4,1091.8 H954.6 V1084.5 L979.9,1098.5 L954.6,1112.5 V1105.8 H893.4 Z" />
<circle cx="930.7" cy="1137.9" r="28.5" />
<circle cx="930.7" cy="1137.9" r="23.3" />
<circle cx="930.7" cy="1137.9" r="10.2" />
<polygon points="956.3,1137.9 943.5,1160.1 917.9,1160.1 905.1,1137.9 917.9,1115.7 943.5,1115.7" stroke-width="0.9"/>
<polygon points="942.9,1141.2 934.0,1150.1 921.8,1146.8 918.5,1134.6 927.4,1125.7 939.6,1129.0" stroke-width="0.9"/>
<line x1="930.4" y1="112.8" x2="930.4" y2="288.0" />
<line x1="930.4" y1="194.3" x2="930.4" y2="1360.6" stroke-dasharray="94 15 15.8 15"/>
<line x1="930.4" y1="1109.0" x2="930.4" y2="1157.6" />
<line x1="620.8" y1="1143.8" x2="775.4" y2="1143.8" />
<line x1="790.9" y1="1143.8" x2="806.4" y2="1143.8" />
<line x1="820.9" y1="1143.8" x2="914.9" y2="1143.8" />
<line x1="960.0" y1="1143.8" x2="1054.9" y2="1143.8" />
<line x1="1070.4" y1="1143.8" x2="1087.1" y2="1143.8" />
<line x1="1101.5" y1="1143.8" x2="1172.5" y2="1143.8" />
<line x1="868.6" y1="1144.3" x2="1000.0" y2="1144.3" />
<line x1="930.4" y1="129.7" x2="1122.5" y2="129.7" />
<polygon class="ar" points="930.4,129.7 961.9,133.7 961.9,125.7"/>
<polygon class="ar" points="1122.5,129.7 1091.0,125.7 1091.0,133.7"/>
<line x1="1122.5" y1="112.8" x2="1122.5" y2="457.0" />
<line x1="803.4" y1="193.4" x2="1057.4" y2="193.4" />
<polygon class="ar" points="803.4,193.4 834.9,197.4 834.9,189.4"/>
<polygon class="ar" points="1057.4,193.4 1025.9,189.4 1025.9,197.4"/>
<line x1="803.4" y1="177.0" x2="803.4" y2="342.4" />
<line x1="1057.4" y1="177.0" x2="1057.4" y2="342.4" />
<g aria-label="151"><text class="hid" x="1001.6" y="124.3" font-size="39.6">151</text><path class="t1" d="M1013.40,96.15 L1013.40,124.95 L1009.20,124.95 L1009.20,104.05 L1004.90,107.15 L1004.30,107.15 L1004.30,103.25 L1010.50,96.15 Z"/><text class="tx" transform="translate(1019.92,124.30) scale(0.775,1)" font-size="39.6">5</text><path class="t1" d="M1049.20,96.15 L1049.20,124.95 L1045.00,124.95 L1045.00,104.05 L1040.70,107.15 L1040.10,107.15 L1040.10,103.25 L1046.30,96.15 Z"/></g>
<g aria-label="215"><text class="hid" x="853.6" y="188.3" font-size="39.6">215</text><text class="tx" transform="translate(854.04,188.30) scale(0.775,1)" font-size="39.6">2</text><path class="t1" d="M883.32,160.15 L883.32,188.95 L879.12,188.95 L879.12,168.05 L874.82,171.15 L874.22,171.15 L874.22,167.25 L880.42,160.15 Z"/><text class="tx" transform="translate(889.84,188.30) scale(0.775,1)" font-size="39.6">5</text></g>
<line x1="562.0" y1="247.4" x2="930.4" y2="247.4" />
<line x1="621.2" y1="665.4" x2="815.7" y2="665.4" />
<line x1="577.4" y1="247.4" x2="577.4" y2="1284.2" />
<polygon class="ar" points="577.4,247.4 573.4,278.9 581.4,278.9"/>
<polygon class="ar" points="577.4,1284.2 581.4,1252.7 573.4,1252.7"/>
<line x1="636.6" y1="247.4" x2="636.6" y2="665.4" />
<polygon class="ar" points="636.6,247.4 632.6,278.9 640.6,278.9"/>
<polygon class="ar" points="636.6,665.4 640.6,633.9 632.6,633.9"/>
<line x1="636.6" y1="665.4" x2="636.6" y2="1143.8" />
<polygon class="ar" points="636.6,665.4 632.6,696.9 640.6,696.9"/>
<polygon class="ar" points="636.6,1143.8 640.6,1112.3 632.6,1112.3"/>
<line x1="636.6" y1="1143.8" x2="636.6" y2="1284.2" />
<polygon class="ar" points="636.6,1143.8 632.6,1175.3 640.6,1175.3"/>
<polygon class="ar" points="636.6,1284.2 640.6,1252.7 632.6,1252.7"/>
<g aria-label="1356" transform="translate(572.2,765.6) rotate(-90)"><text class="hid" x="-36.5" y="0.0" font-size="39.6">1356</text><path class="t1" d="M-24.72,-28.15 L-24.72,0.65 L-28.92,0.65 L-28.92,-20.25 L-33.22,-17.15 L-33.82,-17.15 L-33.82,-21.05 L-27.62,-28.15 Z"/><text class="tx" transform="translate(-18.20,0.00) scale(0.775,1)" font-size="39.6">3</text><text class="tx" transform="translate(-0.30,0.00) scale(0.775,1)" font-size="39.6">5</text><text class="tx" transform="translate(17.60,0.00) scale(0.775,1)" font-size="39.6">6</text></g>
<g aria-label="348" transform="translate(632.4,457.0) rotate(-90)"><text class="hid" x="-26.8" y="0.0" font-size="39.6">348</text><text class="tx" transform="translate(-26.35,0.00) scale(0.775,1)" font-size="39.6">3</text><text class="tx" transform="translate(-8.45,0.00) scale(0.775,1)" font-size="39.6">4</text><text class="tx" transform="translate(9.45,0.00) scale(0.775,1)" font-size="39.6">8</text></g>
<g aria-label="933" transform="translate(631.2,904.3) rotate(-90)"><text class="hid" x="-26.9" y="0.0" font-size="39.6">933</text><text class="tx" transform="translate(-26.48,0.00) scale(0.775,1)" font-size="39.6">9</text><text class="tx" transform="translate(-8.58,0.00) scale(0.775,1)" font-size="39.6">3</text><text class="tx" transform="translate(9.32,0.00) scale(0.775,1)" font-size="39.6">3</text></g>
<g aria-label="75" transform="translate(631.2,1217.0) rotate(-90)"><text class="hid" x="-18.0" y="0.0" font-size="39.6">75</text><text class="tx" transform="translate(-17.63,0.00) scale(0.775,1)" font-size="39.6">7</text><text class="tx" transform="translate(0.27,0.00) scale(0.775,1)" font-size="39.6">5</text></g>
<line x1="831.2" y1="1357.4" x2="1031.6" y2="1357.4" />
<polygon class="ar" points="831.2,1357.4 862.7,1361.4 862.7,1353.4"/>
<polygon class="ar" points="1031.6,1357.4 1000.1,1353.4 1000.1,1361.4"/>
<line x1="831.2" y1="1223.3" x2="831.2" y2="1372.5" />
<line x1="1031.6" y1="1223.3" x2="1031.6" y2="1372.5" />
<line x1="782.4" y1="1429.5" x2="1081.5" y2="1429.5" />
<polygon class="ar" points="782.4,1429.5 813.9,1433.5 813.9,1425.5"/>
<polygon class="ar" points="1081.5,1429.5 1050.0,1425.5 1050.0,1433.5"/>
<line x1="782.4" y1="1284.0" x2="782.4" y2="1445.2" />
<line x1="1081.5" y1="1284.2" x2="1081.5" y2="1445.2" />
<line x1="696.3" y1="1490.4" x2="1164.4" y2="1490.4" />
<polygon class="ar" points="696.3,1490.4 727.8,1494.4 727.8,1486.4"/>
<polygon class="ar" points="1164.4,1490.4 1132.9,1486.4 1132.9,1494.4"/>
<line x1="696.3" y1="1215.0" x2="696.3" y2="1506.4" />
<line x1="1164.4" y1="1215.0" x2="1164.4" y2="1506.4" />
<g aria-label="100"><text class="hid" x="904.0" y="1352.4" font-size="39.6">100</text><path class="t1" d="M915.81,1324.25 L915.81,1353.05 L911.61,1353.05 L911.61,1332.15 L907.31,1335.25 L906.71,1335.25 L906.71,1331.35 L912.91,1324.25 Z"/><text class="tx" transform="translate(922.32,1352.40) scale(0.775,1)" font-size="39.6">0</text><text class="tx" transform="translate(940.22,1352.40) scale(0.775,1)" font-size="39.6">0</text></g>
<g aria-label="158"><text class="hid" x="903.8" y="1425.3" font-size="39.6">158</text><path class="t1" d="M915.62,1397.15 L915.62,1425.95 L911.42,1425.95 L911.42,1405.05 L907.12,1408.15 L906.52,1408.15 L906.52,1404.25 L912.72,1397.15 Z"/><text class="tx" transform="translate(922.14,1425.30) scale(0.775,1)" font-size="39.6">5</text><text class="tx" transform="translate(940.04,1425.30) scale(0.775,1)" font-size="39.6">8</text></g>
<g aria-label="250"><text class="hid" x="898.7" y="1485.8" font-size="39.6">250</text><text class="tx" transform="translate(899.14,1485.80) scale(0.775,1)" font-size="39.6">2</text><text class="tx" transform="translate(917.04,1485.80) scale(0.775,1)" font-size="39.6">5</text><text class="tx" transform="translate(934.94,1485.80) scale(0.775,1)" font-size="39.6">0</text></g>
<path d="M934.3,807.4 L1126.3,689.4 H1184.0" />
<polygon class="ar" points="934.3,807.4 963.2,794.3 959.0,787.5"/>
<path d="M947.3,1131.8 L1125.2,990.4 H1184.0" />
<polygon class="ar" points="947.3,1131.8 974.4,1115.3 969.5,1109.1"/>
<text class="tx" transform="translate(1147.85,674.8) scale(0.78,1)" font-size="39.6">G</text>
<text class="hid" x="1173" y="658.7" font-size="28">1/</text>
<path class="t1" d="M1180.91,638.90 L1180.91,658.70 L1178.09,658.70 L1178.09,644.33 L1175.21,646.46 L1174.81,646.46 L1174.81,643.78 L1178.97,638.90 Z"/>
<line x1="1172.1" y1="661.7" x2="1184.2" y2="661.7" stroke-width="1.3"/>
<text class="tx" style="stroke-width:1.0" transform="translate(1171.4,684.4) scale(0.777,1)" font-size="28.6">2</text>
<text class="tx" transform="translate(1147.85,976.0) scale(0.78,1)" font-size="39.6">G</text>
<text class="hid" x="1173" y="959.9" font-size="28">1/</text>
<path class="t1" d="M1180.91,940.10 L1180.91,959.90 L1178.09,959.90 L1178.09,945.53 L1175.21,947.66 L1174.81,947.66 L1174.81,944.98 L1178.97,940.10 Z"/>
<line x1="1172.1" y1="962.9" x2="1184.2" y2="962.9" stroke-width="1.3"/>
<text class="tx" style="stroke-width:1.0" transform="translate(1171.4,985.6) scale(0.777,1)" font-size="28.6">2</text>
<circle cx="1609.5" cy="1143.6" r="131.0" />
<circle cx="1609.5" cy="1143.6" r="56.2" />
<circle cx="1609.5" cy="1143.6" r="30.2" />
<path d="M1515.5,1143.6 A94,94 0 1 0 1703.5,1143.6 A94,94 0 1 0 1515.5,1143.6" stroke-dasharray="99.9 15.9 15.9 15.9"/>
<circle cx="1543.1" cy="1077.4" r="16.9" />
<line x1="1522.9" y1="1056.9" x2="1563.9" y2="1097.9" />
<line x1="1522.1" y1="1097.9" x2="1563.1" y2="1056.9" />
<circle cx="1543.1" cy="1209.8" r="16.9" />
<line x1="1522.3" y1="1189.3" x2="1563.3" y2="1230.3" />
<line x1="1522.7" y1="1230.3" x2="1563.7" y2="1189.3" />
<circle cx="1675.9" cy="1077.4" r="16.9" />
<line x1="1655.9" y1="1056.9" x2="1696.9" y2="1097.9" />
<line x1="1655.1" y1="1097.9" x2="1696.1" y2="1056.9" />
<circle cx="1675.9" cy="1209.8" r="16.9" />
<line x1="1655.3" y1="1189.3" x2="1696.3" y2="1230.3" />
<line x1="1655.7" y1="1230.3" x2="1696.7" y2="1189.3" />
<line x1="1609.5" y1="969.2" x2="1609.5" y2="1281" stroke-dasharray="62.8 15 15.8 15 93.5 15 15.8 15"/>
<line x1="1454.3" y1="1143.6" x2="1796.6" y2="1143.6" stroke-dasharray="78.7 15 15.8 15 93.5 15 15.8 15"/>
<line x1="1458.0" y1="982.4" x2="1516.5" y2="982.4" />
<line x1="1532.5" y1="982.4" x2="1548.4" y2="982.4" />
<line x1="1563.3" y1="982.4" x2="1656.0" y2="982.4" />
<line x1="1671.3" y1="982.4" x2="1688.0" y2="982.4" />
<line x1="1703.1" y1="982.4" x2="1761.7" y2="982.4" />
<line x1="1481.7" y1="982.4" x2="1481.7" y2="1075.9" />
<line x1="1490.5" y1="982.4" x2="1490.5" y2="1075.9" />
<line x1="1512.4" y1="982.4" x2="1512.4" y2="1055.6" />
<line x1="1707.5" y1="982.4" x2="1707.5" y2="1051.5" />
<line x1="1728.6" y1="982.4" x2="1728.6" y2="1075.9" />
<line x1="1738.5" y1="982.4" x2="1738.5" y2="1075.9" />
<path d="M1497.3,1075.9 H1465.6 Q1461.2,1076.3 1461.2,1081 V1198.5 Q1460.8,1209.5 1452,1213.2" />
<path d="M1482,1075.9 Q1477.7,1076.3 1477.7,1081 V1207.9" />
<path d="M1458.4,1091.4 H1466.6 V1105.4 H1458.4 Z M1461.2,1086 V1091.4 M1461.2,1105.4 V1109" />
<path d="M1494.9,1205.6 L1393,1223.6 Q1385,1225.5 1384.4,1233.3 V1276.3 L1390.7,1279.8 V1284.4 H1479.3 C1497,1270.5 1515,1259.5 1533.5,1251.6" />
<path d="M1384.4,1232.6 H1428 Q1440,1232.4 1502.8,1220.4" />
<path d="M1413.4,1222.9 L1471.8,1211.5 L1468.8,1215.2 Q1440,1223.6 1416,1225.2 Q1411.5,1225 1413.4,1222.9" />
<g transform="translate(3219.0,0) scale(-1,1)">
<path d="M1497.3,1075.9 H1465.6 Q1461.2,1076.3 1461.2,1081 V1198.5 Q1460.8,1209.5 1452,1213.2" />
<path d="M1482,1075.9 Q1477.7,1076.3 1477.7,1081 V1207.9" />
<path d="M1458.4,1091.4 H1466.6 V1105.4 H1458.4 Z M1461.2,1086 V1091.4 M1461.2,1105.4 V1109" />
<path d="M1494.9,1205.6 L1393,1223.6 Q1385,1225.5 1384.4,1233.3 V1276.3 L1390.7,1279.8 V1284.4 H1479.3 C1497,1270.5 1515,1259.5 1533.5,1251.6" />
<path d="M1384.4,1232.6 H1428 Q1440,1232.4 1502.8,1220.4" />
<path d="M1413.4,1222.9 L1471.8,1211.5 L1468.8,1215.2 Q1440,1223.6 1416,1225.2 Q1411.5,1225 1413.4,1222.9" />
</g>
<path d="M1758.1,1112.5 H1760.6 V1165 H1758.1 M1758.1,1112.5 Q1753,1142.8 1758.1,1165" />
<path d="M1760.6,1116.2 H1775.4 V1161.8 H1760.6 M1774.4,1116.2 V1161.8 M1760.6,1138.4 H1774.4" />
<path d="M1775.6,1126.6 H1787 Q1788.7,1126.8 1788.7,1128.6 V1149.4 Q1788.7,1151.2 1787,1151.4 H1775.6 M1775.6,1129.5 H1788.5" />
<line x1="1444.4" y1="1221.7" x2="1444.4" y2="1388.6" />
<line x1="1775.6" y1="1222.0" x2="1775.6" y2="1388.6" />
<line x1="1384.4" y1="1276.0" x2="1384.4" y2="1460.6" />
<line x1="1834.6" y1="1276.0" x2="1834.6" y2="1460.6" />
<line x1="1444.4" y1="1372.4" x2="1775.6" y2="1372.4" />
<polygon class="ar" points="1444.4,1372.4 1475.9,1376.4 1475.9,1368.4"/>
<polygon class="ar" points="1775.6,1372.4 1744.1,1368.4 1744.1,1376.4"/>
<line x1="1384.4" y1="1445.8" x2="1834.6" y2="1445.8" />
<polygon class="ar" points="1384.4,1445.8 1415.9,1449.8 1415.9,1441.8"/>
<polygon class="ar" points="1834.6,1445.8 1803.1,1441.8 1803.1,1449.8"/>
<g aria-label="180"><text class="hid" x="1582.3" y="1368.1" font-size="39.6">180</text><path class="t1" d="M1594.06,1339.95 L1594.06,1368.75 L1589.86,1368.75 L1589.86,1347.85 L1585.56,1350.95 L1584.96,1350.95 L1584.96,1347.05 L1591.16,1339.95 Z"/><text class="tx" transform="translate(1600.57,1368.10) scale(0.775,1)" font-size="39.6">8</text><text class="tx" transform="translate(1618.47,1368.10) scale(0.775,1)" font-size="39.6">0</text></g>
<g aria-label="240"><text class="hid" x="1582.6" y="1440.5" font-size="39.6">240</text><text class="tx" transform="translate(1583.04,1440.50) scale(0.775,1)" font-size="39.6">2</text><text class="tx" transform="translate(1600.94,1440.50) scale(0.775,1)" font-size="39.6">4</text><text class="tx" transform="translate(1618.84,1440.50) scale(0.775,1)" font-size="39.6">0</text></g>
<line x1="1327.4" y1="1087.3" x2="1612.3" y2="1087.3" />
<line x1="1327.4" y1="1199.4" x2="1612.3" y2="1199.4" />
<line x1="1386.2" y1="1113.5" x2="1616.8" y2="1113.5" />
<line x1="1386.2" y1="1173.4" x2="1616.8" y2="1173.4" />
<line x1="1609.5" y1="1049.4" x2="1866.7" y2="1049.4" />
<line x1="1609.5" y1="1237.4" x2="1866.7" y2="1237.4" />
<line x1="1623.3" y1="1012.2" x2="1926.0" y2="1012.2" />
<line x1="1623.3" y1="1274.4" x2="1926.0" y2="1274.4" />
<line x1="1343.8" y1="1087.3" x2="1343.8" y2="1199.4" />
<polygon class="ar" points="1343.8,1087.3 1339.8,1118.8 1347.8,1118.8"/>
<polygon class="ar" points="1343.8,1199.4 1347.8,1167.9 1339.8,1167.9"/>
<line x1="1402.3" y1="960.8" x2="1402.3" y2="1220.6" />
<polygon class="ar" points="1402.3,1113.5 1406.3,1082.0 1398.3,1082.0"/>
<polygon class="ar" points="1402.3,1173.4 1398.3,1204.9 1406.3,1204.9"/>
<line x1="1850.8" y1="1049.4" x2="1850.8" y2="1237.4" />
<polygon class="ar" points="1850.8,1049.4 1846.8,1080.9 1854.8,1080.9"/>
<polygon class="ar" points="1850.8,1237.4 1854.8,1205.9 1846.8,1205.9"/>
<line x1="1910.7" y1="1012.2" x2="1910.7" y2="1274.4" />
<polygon class="ar" points="1910.7,1012.2 1906.7,1043.7 1914.7,1043.7"/>
<polygon class="ar" points="1910.7,1274.4 1914.7,1242.9 1906.7,1242.9"/>
<g aria-label="Ø32" transform="translate(1397.4,989.9) rotate(-90)"><text class="hid" x="-28.2" y="0.0" font-size="39.6">Ø32</text><text class="tx" transform="translate(-28.21,0.00) scale(0.7,1)" font-size="39.6">Ø</text><text class="tx" transform="translate(-6.23,0.00) scale(0.775,1)" font-size="39.6">3</text><text class="tx" transform="translate(11.67,0.00) scale(0.775,1)" font-size="39.6">2</text></g>
<g aria-label="Ø60" transform="translate(1337.0,1143.1) rotate(-90)"><text class="hid" x="-28.4" y="0.0" font-size="39.6">Ø60</text><text class="tx" transform="translate(-28.38,0.00) scale(0.7,1)" font-size="39.6">Ø</text><text class="tx" transform="translate(-6.40,0.00) scale(0.775,1)" font-size="39.6">6</text><text class="tx" transform="translate(11.50,0.00) scale(0.775,1)" font-size="39.6">0</text></g>
<g aria-label="Ø100" transform="translate(1844.9,1143.7) rotate(-90)"><text class="hid" x="-37.3" y="0.0" font-size="39.6">Ø100</text><text class="tx" transform="translate(-37.33,0.00) scale(0.7,1)" font-size="39.6">Ø</text><path class="t1" d="M-3.97,-28.15 L-3.97,0.65 L-8.17,0.65 L-8.17,-20.25 L-12.47,-17.15 L-13.07,-17.15 L-13.07,-21.05 L-6.87,-28.15 Z"/><text class="tx" transform="translate(2.55,0.00) scale(0.775,1)" font-size="39.6">0</text><text class="tx" transform="translate(20.45,0.00) scale(0.775,1)" font-size="39.6">0</text></g>
<g aria-label="Ø140" transform="translate(1904.2,1143.7) rotate(-90)"><text class="hid" x="-37.3" y="0.0" font-size="39.6">Ø140</text><text class="tx" transform="translate(-37.33,0.00) scale(0.7,1)" font-size="39.6">Ø</text><path class="t1" d="M-3.97,-28.15 L-3.97,0.65 L-8.17,0.65 L-8.17,-20.25 L-12.47,-17.15 L-13.07,-17.15 L-13.07,-21.05 L-6.87,-28.15 Z"/><text class="tx" transform="translate(2.55,0.00) scale(0.775,1)" font-size="39.6">4</text><text class="tx" transform="translate(20.45,0.00) scale(0.775,1)" font-size="39.6">0</text></g>
<text class="tx" transform="translate(1544.4,1528.7) scale(0.8246,1)" font-size="39.6">PN25/DN32</text>
<text class="hid" x="1471" y="1529" font-size="36">法兰</text>
<path d="M1473.0,1499.4 L1479.0,1504.4" stroke-width="3.0" stroke-linecap="butt" stroke-linejoin="miter"/>
<path d="M1471.5,1509.4 L1477.5,1514.4" stroke-width="3.0" stroke-linecap="butt" stroke-linejoin="miter"/>
<path d="M1472.0,1531.4 L1479.5,1519.4" stroke-width="3.0" stroke-linecap="butt" stroke-linejoin="miter"/>
<path d="M1483.0,1504.4 L1500.0,1504.4" stroke-width="3.0" stroke-linecap="butt" stroke-linejoin="miter"/>
<path d="M1491.3,1496.9 L1491.3,1514.4" stroke-width="3.0" stroke-linecap="butt" stroke-linejoin="miter"/>
<path d="M1481.0,1514.4 L1501.0,1514.4" stroke-width="3.0" stroke-linecap="butt" stroke-linejoin="miter"/>
<path d="M1490.5,1514.4 L1484.5,1527.9 L1498.0,1525.9" stroke-width="3.0" stroke-linecap="butt" stroke-linejoin="miter"/>
<path d="M1494.5,1519.9 L1500.5,1531.4" stroke-width="3.0" stroke-linecap="butt" stroke-linejoin="miter"/>
<path d="M1512.6,1497.9 L1516.1,1504.9" stroke-width="3.0" stroke-linecap="butt" stroke-linejoin="miter"/>
<path d="M1526.6,1497.9 L1522.6,1504.9" stroke-width="3.0" stroke-linecap="butt" stroke-linejoin="miter"/>
<path d="M1508.1,1506.9 L1531.1,1506.9" stroke-width="3.0" stroke-linecap="butt" stroke-linejoin="miter"/>
<path d="M1511.6,1517.4 L1527.6,1517.4" stroke-width="3.0" stroke-linecap="butt" stroke-linejoin="miter"/>
<path d="M1505.1,1529.9 L1534.1,1529.9" stroke-width="3.0" stroke-linecap="butt" stroke-linejoin="miter"/>
</g></svg></body></html>
